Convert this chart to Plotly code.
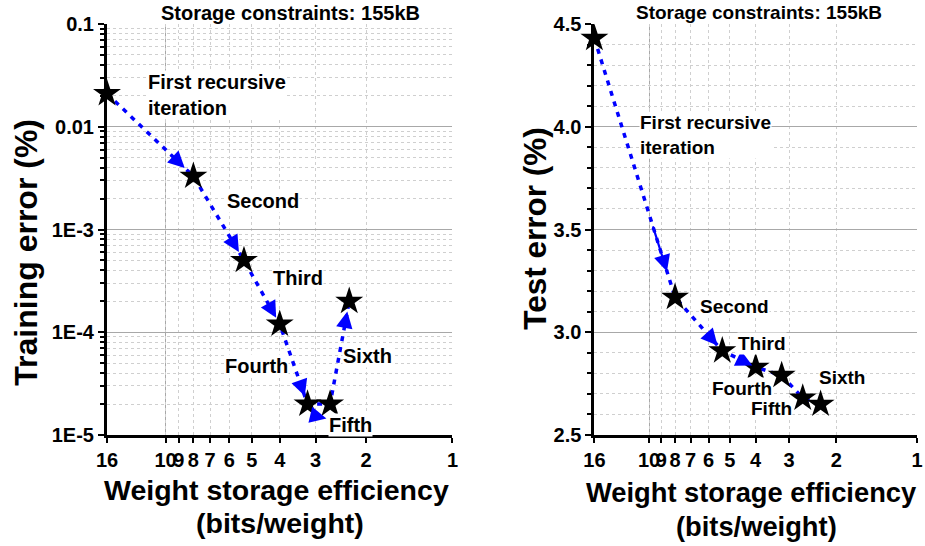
import numpy as np
import plotly.graph_objects as go

# ---------------- data ----------------
bits = [16, 8, 5.33, 4, 3.2, 2.67, 2.29]
train_err = [0.021, 0.0033, 5.0e-4, 1.2e-4, 2.0e-5, 2.0e-5, 2.0e-4]
test_err = [4.43, 3.17, 2.91, 2.83, 2.79, 2.68, 2.65]
iter_labels = ["First recursive<br>iteration", "Second", "Third", "Fourth", "Fifth", "Sixth"]
x_ticks = [16, 10, 9, 8, 7, 6, 5, 4, 3, 2, 1]
x_tick_text = ["16", "10", "9", "8", "7", "6", "5", "4", "3", "2", "1"]
train_ticks = [1e-5, 1e-4, 1e-3, 0.01, 0.1]
train_tick_text = ["1E-5", "1E-4", "1E-3", "0.01", "0.1"]
test_ticks = [2.5, 3.0, 3.5, 4.0, 4.5]
title_text = "Storage constraints: 155kB"
x_title_1 = "Weight storage efficiency"
x_title_2 = "(bits/weight)"
train_title = "Training error (%)"
test_title = "Test error (%)"

# label anchor positions (left edge / middle) in data units
train_label_pos = [(11.6, 0.0203), (6.15, 1.875e-3), (4.26, 3.4e-4), (6.25, 4.7e-5), (2.71, 1.25e-5), (2.42, 5.9e-5)]
test_label_pos = [(10.9, 3.96), (6.53, 3.123), (4.68, 2.943), (5.89, 2.724), (4.19, 2.627), (2.345, 2.782)]

FONT = "Liberation Sans, Arial, sans-serif"
BLUE = "#0000ff"
MAJOR_GRID = "#a8a8a8"
MINOR_GRID = "#cfcfcf"

fig = go.Figure()

# dotted arrow shafts
fig.add_trace(go.Scatter(x=bits, y=train_err, mode="lines", xaxis="x", yaxis="y",
                         line=dict(color=BLUE, width=3.5, dash="5px,6px"), showlegend=False, hoverinfo="skip"))
fig.add_trace(go.Scatter(x=bits, y=test_err, mode="lines", xaxis="x2", yaxis="y2",
                         line=dict(color=BLUE, width=3.5, dash="5px,6px"), showlegend=False, hoverinfo="skip"))
# stars
star = dict(symbol="star", size=21, color="black", line=dict(width=0))
fig.add_trace(go.Scatter(x=bits, y=train_err, mode="markers", xaxis="x", yaxis="y",
                         marker=star, showlegend=False, cliponaxis=False))
fig.add_trace(go.Scatter(x=bits, y=test_err, mode="markers", xaxis="x2", yaxis="y2",
                         marker=star, showlegend=False, cliponaxis=False))

annotations = []


def head(xr, yr, xa, ya, xb, yb, logy, f_tip=0.9, f_tail=0.72):
    X0, X1 = np.log10(xa), np.log10(xb)
    Y0, Y1 = (np.log10(ya), np.log10(yb)) if logy else (ya, yb)
    tx, ty = X0 + f_tip * (X1 - X0), Y0 + f_tip * (Y1 - Y0)
    sx, sy = X0 + f_tail * (X1 - X0), Y0 + f_tail * (Y1 - Y0)
    return dict(xref=xr, yref=yr, axref=xr, ayref=yr, x=tx, y=ty, ax=sx, ay=sy, text="",
                showarrow=True, arrowhead=2, arrowsize=1.5, arrowwidth=2.2, arrowcolor=BLUE, standoff=0)


for i in range(6):
    if i != 4:
        annotations.append(head("x", "y", bits[i], train_err[i], bits[i + 1], train_err[i + 1], True))
    annotations.append(head("x2", "y2", bits[i], test_err[i], bits[i + 1], test_err[i + 1], False))

# the "fifth" step on the training plot: small arrow beneath the two stars
annotations.append(dict(xref="x", yref="y", x=np.log10(bits[5] * 1.03), y=np.log10(train_err[5] / 1.38),
                        ax=-17, ay=-4, text="", showarrow=True, arrowhead=2, arrowsize=1.5,
                        arrowwidth=2.2, arrowcolor=BLUE, standoff=0))

lab_font = dict(family=FONT, size=20, color="black", weight="bold")
for txt, (px, py) in zip(iter_labels, train_label_pos):
    annotations.append(dict(xref="x", yref="y", x=np.log10(px), y=np.log10(py), text=txt, showarrow=False,
                            xanchor="left", yanchor="middle", align="left", font=lab_font,
                            bgcolor="white", borderpad=0))
for txt, (px, py) in zip(iter_labels, test_label_pos):
    annotations.append(dict(xref="x2", yref="y2", x=np.log10(px), y=py, text=txt, showarrow=False,
                            xanchor="left", yanchor="middle", align="left",
                            font=dict(family=FONT, size=19, color="black", weight="bold"),
                            bgcolor="white", borderpad=0))

# panel titles
annotations.append(dict(xref="x domain", yref="paper", x=0.5, y=1.027, xshift=11, text=title_text,
                        showarrow=False, yanchor="middle",
                        font=dict(family=FONT, size=20, color="black", weight="bold")))
annotations.append(dict(xref="x2 domain", yref="paper", x=0.5, y=1.027, xshift=3, text=title_text,
                        showarrow=False, yanchor="middle",
                        font=dict(family=FONT, size=19, color="black", weight="bold")))


# axis titles (placed as annotations for exact layout)
def ttl(text, x, y, size, angle=0):
    return dict(xref="paper", yref="paper", x=x, y=y, text=text, showarrow=False,
                xanchor="center", yanchor="middle", textangle=angle,
                font=dict(family=FONT, size=size, color="black", weight="bold"))


annotations += [
    ttl(x_title_1, 0.2096, -0.1338, 28.5),
    ttl(x_title_2, 0.2135, -0.2141, 28.5),
    ttl(x_title_1, 0.7953, -0.1411, 27.3),
    ttl(x_title_2, 0.8015, -0.2238, 27.3),
    ttl(train_title, -0.0993, 0.445, 32, -90),
    ttl(test_title, 0.528, 0.501, 31.5, -90),
]

tick_font = dict(family=FONT, size=20, color="black", weight="bold")

xcommon = dict(type="log", range=[np.log10(16), 0], tickvals=x_ticks, ticktext=x_tick_text,
               tickangle=0, ticks="outside", ticklen=5, tickwidth=2, tickcolor="black",
               showline=True, linecolor="black", linewidth=3, zeroline=False,
               showgrid=True, gridcolor=MINOR_GRID, griddash="dot", gridwidth=1,
               minor=dict(tickvals=[10], showgrid=True, gridcolor=MAJOR_GRID, griddash="solid",
                          gridwidth=1, ticks=""),
               tickfont=tick_font)

minor_log = [m * 10.0 ** e for e in range(-5, -1) for m in range(2, 10)]
minor_lin = [round(2.5 + 0.1 * k, 2) for k in range(21)]

fig.update_layout(
    width=925, height=546,
    margin=dict(l=107, r=2, t=24, b=111),
    paper_bgcolor="white", plot_bgcolor="white",
    showlegend=False,
    xaxis=dict(domain=[0, 0.4265], anchor="y", **xcommon),
    xaxis2=dict(domain=[0.6017, 1], anchor="y2", **xcommon),
    yaxis=dict(type="log", range=[-5, -1], tickvals=train_ticks, ticktext=train_tick_text,
               ticks="outside", ticklen=6, tickwidth=2, tickcolor="black",
               showline=True, linecolor="black", linewidth=3, zeroline=False,
               showgrid=True, gridcolor=MAJOR_GRID, gridwidth=1,
               minor=dict(tickvals=minor_log, ticks="outside", ticklen=4, tickwidth=2, tickcolor="black",
                          showgrid=True, gridcolor=MINOR_GRID, griddash="dot", gridwidth=1),
               tickfont=tick_font),
    yaxis2=dict(anchor="x2", range=[2.5, 4.5], tickvals=test_ticks, tickformat=".1f",
                ticks="outside", ticklen=6, tickwidth=2, tickcolor="black",
                showline=True, linecolor="black", linewidth=3, zeroline=False,
                showgrid=True, gridcolor=MAJOR_GRID, gridwidth=1,
                minor=dict(tickvals=minor_lin, ticks="outside", ticklen=4, tickwidth=2, tickcolor="black",
                           showgrid=True, gridcolor=MINOR_GRID, griddash="dot", gridwidth=1),
                tickfont=tick_font),
    annotations=annotations,
)

fig.write_html("out.html", post_script="document.body.style.margin='0';",
               config={"displayModeBar": False})
